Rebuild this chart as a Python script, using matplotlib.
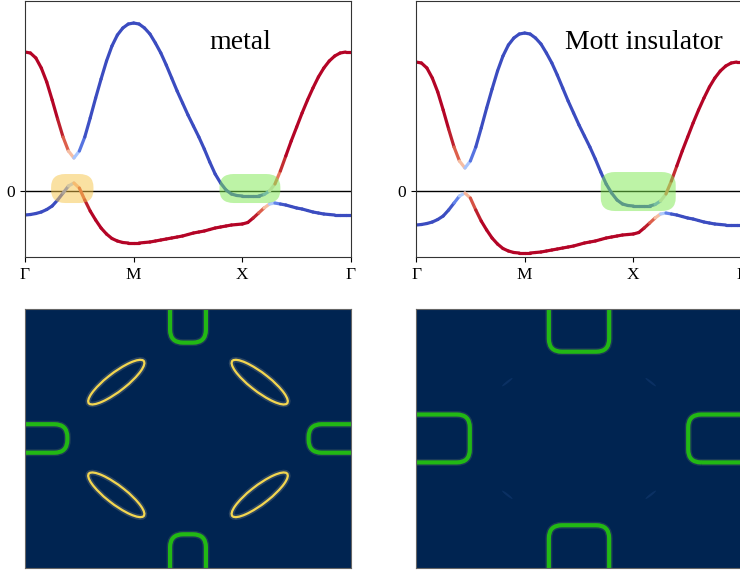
import numpy as np
import matplotlib.pyplot as plt
from matplotlib.collections import LineCollection
from matplotlib.patches import FancyBboxPatch, Ellipse

plt.rcParams['font.family'] = ['Liberation Serif', 'DejaVu Serif']

# ---- band structure along Gamma-M-X-Gamma (metal panel) ----
k_path = np.linspace(0, 3, 61)
sym_pos = [0, 1, 2, 3]
sym_labels = ['Γ', 'M', 'X', 'Γ']

E_upper = [1.39, 1.38, 1.33, 1.23, 1.09, 0.91, 0.72, 0.54, 0.40, 0.33,
           0.40, 0.54, 0.73, 0.93, 1.12, 1.30, 1.45, 1.56, 1.63, 1.67,
           1.68, 1.67, 1.63, 1.57, 1.48, 1.38, 1.26, 1.13, 1.00, 0.88,
           0.76, 0.65, 0.54, 0.42, 0.29, 0.17, 0.08, 0.01, -0.03, -0.045,
           -0.05, -0.05, -0.05, -0.05, -0.035, 0.00, 0.07, 0.20, 0.35, 0.50,
           0.64, 0.78, 0.91, 1.03, 1.14, 1.23, 1.30, 1.35, 1.38, 1.39,
           1.39]
E_lower = [-0.24, -0.235, -0.225, -0.21, -0.185, -0.15, -0.09, -0.02, 0.05, 0.08,
           0.03, -0.09, -0.20, -0.29, -0.37, -0.43, -0.475, -0.50, -0.515, -0.52,
           -0.52, -0.52, -0.515, -0.51, -0.50, -0.49, -0.48, -0.47, -0.46, -0.45,
           -0.435, -0.42, -0.41, -0.40, -0.385, -0.37, -0.36, -0.35, -0.34, -0.335,
           -0.33, -0.315, -0.27, -0.22, -0.17, -0.13, -0.12, -0.13, -0.14, -0.155,
           -0.17, -0.18, -0.195, -0.21, -0.22, -0.23, -0.235, -0.24, -0.24, -0.24,
           -0.24]
# orbital weight (0 = blue character, 1 = red character)
w_upper = [1, 1, 1, 1, 1, 1, 1, 0.95, 0.8, 0.5,
           0.15, 0.03, 0, 0, 0, 0, 0, 0, 0, 0,
           0, 0, 0, 0, 0, 0, 0, 0, 0, 0,
           0, 0, 0, 0, 0, 0, 0, 0, 0, 0,
           0, 0, 0, 0, 0.05, 0.3, 0.75, 0.92, 1, 1,
           1, 1, 1, 1, 1, 1, 1, 1, 1, 1,
           1]
w_lower = [0, 0, 0, 0, 0, 0, 0, 0.05, 0.2, 0.5,
           0.85, 0.95, 1, 1, 1, 1, 1, 1, 1, 1,
           1, 1, 1, 1, 1, 1, 1, 1, 1, 1,
           1, 1, 1, 1, 1, 1, 1, 1, 1, 1,
           1, 1, 1, 0.95, 0.8, 0.5, 0.2, 0.05, 0, 0,
           0, 0, 0, 0, 0, 0, 0, 0, 0, 0,
           0]

panel_titles = ['metal', 'Mott insulator']
title_pos = [(1.98, 1.49), (2.10, 1.49)]
energy_shift = [0.0, -0.10]

# highlight boxes: (k0, k1, E0, E1, colour)
highlights = [
    [(0.24, 0.63, -0.12, 0.17, '#f6c447'), (1.79, 2.35, -0.12, 0.17, '#7de84f')],
    [(1.70, 2.39, -0.20, 0.19, '#7de84f')],
]

# ---- Fermi surfaces (k in units of pi) ----
pocket_halfwidth = [0.11, 0.185]
pocket_depth = [0.26, 0.33]
arc_centers = [(-0.44, 0.435), (0.44, 0.435), (-0.44, -0.435), (0.44, -0.435)]
arc_angles = [45, -45, -45, 45]
arc_major = [0.47, 0.09]
arc_minor = [0.13, 0.015]

fig = plt.figure(figsize=(7.4, 5.71), dpi=100)
top_axes = [fig.add_axes([0.0338, 0.5499, 0.4405, 0.4483]),
            fig.add_axes([0.5622, 0.5499, 0.4405, 0.4483])]
bot_axes = [fig.add_axes([0.0338, 0.0053, 0.4405, 0.4536]),
            fig.add_axes([0.5622, 0.0053, 0.4405, 0.4536])]

for i, ax in enumerate(top_axes):
    ax.axhline(0, color='black', lw=1.0, zorder=1)
    for E, w in [(E_upper, w_upper), (E_lower, w_lower)]:
        pts = np.column_stack([k_path, np.array(E) + energy_shift[i]])
        segs = np.stack([pts[:-1], pts[1:]], axis=1)
        wa = np.array(w, dtype=float)
        lc = LineCollection(segs, cmap='coolwarm', linewidths=2.3,
                            capstyle='round', joinstyle='round', zorder=2)
        lc.set_array(0.5 * (wa[:-1] + wa[1:]))
        lc.set_clim(0, 1)
        ax.add_collection(lc)
    for k0, k1, e0, e1, c in highlights[i]:
        box = FancyBboxPatch((k0, e0), k1 - k0, e1 - e0,
                             boxstyle='round,pad=0,rounding_size=0.13',
                             fc=c, ec='none', alpha=0.5, zorder=3)
        ax.add_patch(box)
    ax.text(title_pos[i][0], title_pos[i][1], panel_titles[i],
            ha='center', va='center', fontsize=20)
    ax.set_xlim(0, 3)
    ax.set_ylim(-0.66, 1.90)
    ax.set_xticks(sym_pos)
    ax.set_xticklabels(sym_labels, fontsize=12.5)
    ax.set_yticks([0])
    ax.set_yticklabels(['0'], fontsize=12.5)
    for s in ax.spines.values():
        s.set_color('#333333')
        s.set_linewidth(0.8)

for i, ax in enumerate(bot_axes):
    ax.set_facecolor('#002451')
    ax.set_xlim(-1, 1)
    ax.set_ylim(-1, 1)
    ax.set_xticks([])
    ax.set_yticks([])
    for s in ax.spines.values():
        s.set_color('#666666')
        s.set_linewidth(0.8)
    hw, d = pocket_halfwidth[i], pocket_depth[i]
    boxes = [(-hw, 1 - d, 2 * hw, 2 * d), (-hw, -1 - d, 2 * hw, 2 * d),
             (1 - d, -hw, 2 * d, 2 * hw), (-1 - d, -hw, 2 * d, 2 * hw)]
    for x0, y0, bw, bh in boxes:
        for lw, col, al in [(5.0, '#6b7d6b', 0.25), (3.0, '#22b814', 1.0)]:
            ax.add_patch(FancyBboxPatch((x0, y0), bw, bh,
                                        boxstyle='round,pad=0,rounding_size=0.08',
                                        mutation_aspect=1.26, fc='none',
                                        ec=col, lw=lw, alpha=al))
    for (cx, cy), ang in zip(arc_centers, arc_angles):
        if i == 0:
            ax.add_patch(Ellipse((cx, cy), arc_major[0], arc_minor[0], angle=ang,
                                 fc='none', ec='#8c8f8a', lw=4.0, alpha=0.3))
            ax.add_patch(Ellipse((cx, cy), arc_major[0], arc_minor[0], angle=ang,
                                 fc='none', ec='#f3d650', lw=1.6))
        else:
            ax.add_patch(Ellipse((cx, cy), arc_major[1], arc_minor[1], angle=ang,
                                 fc='#0e3468', ec='none', alpha=0.8))

fig.savefig('out.png', dpi=100)
